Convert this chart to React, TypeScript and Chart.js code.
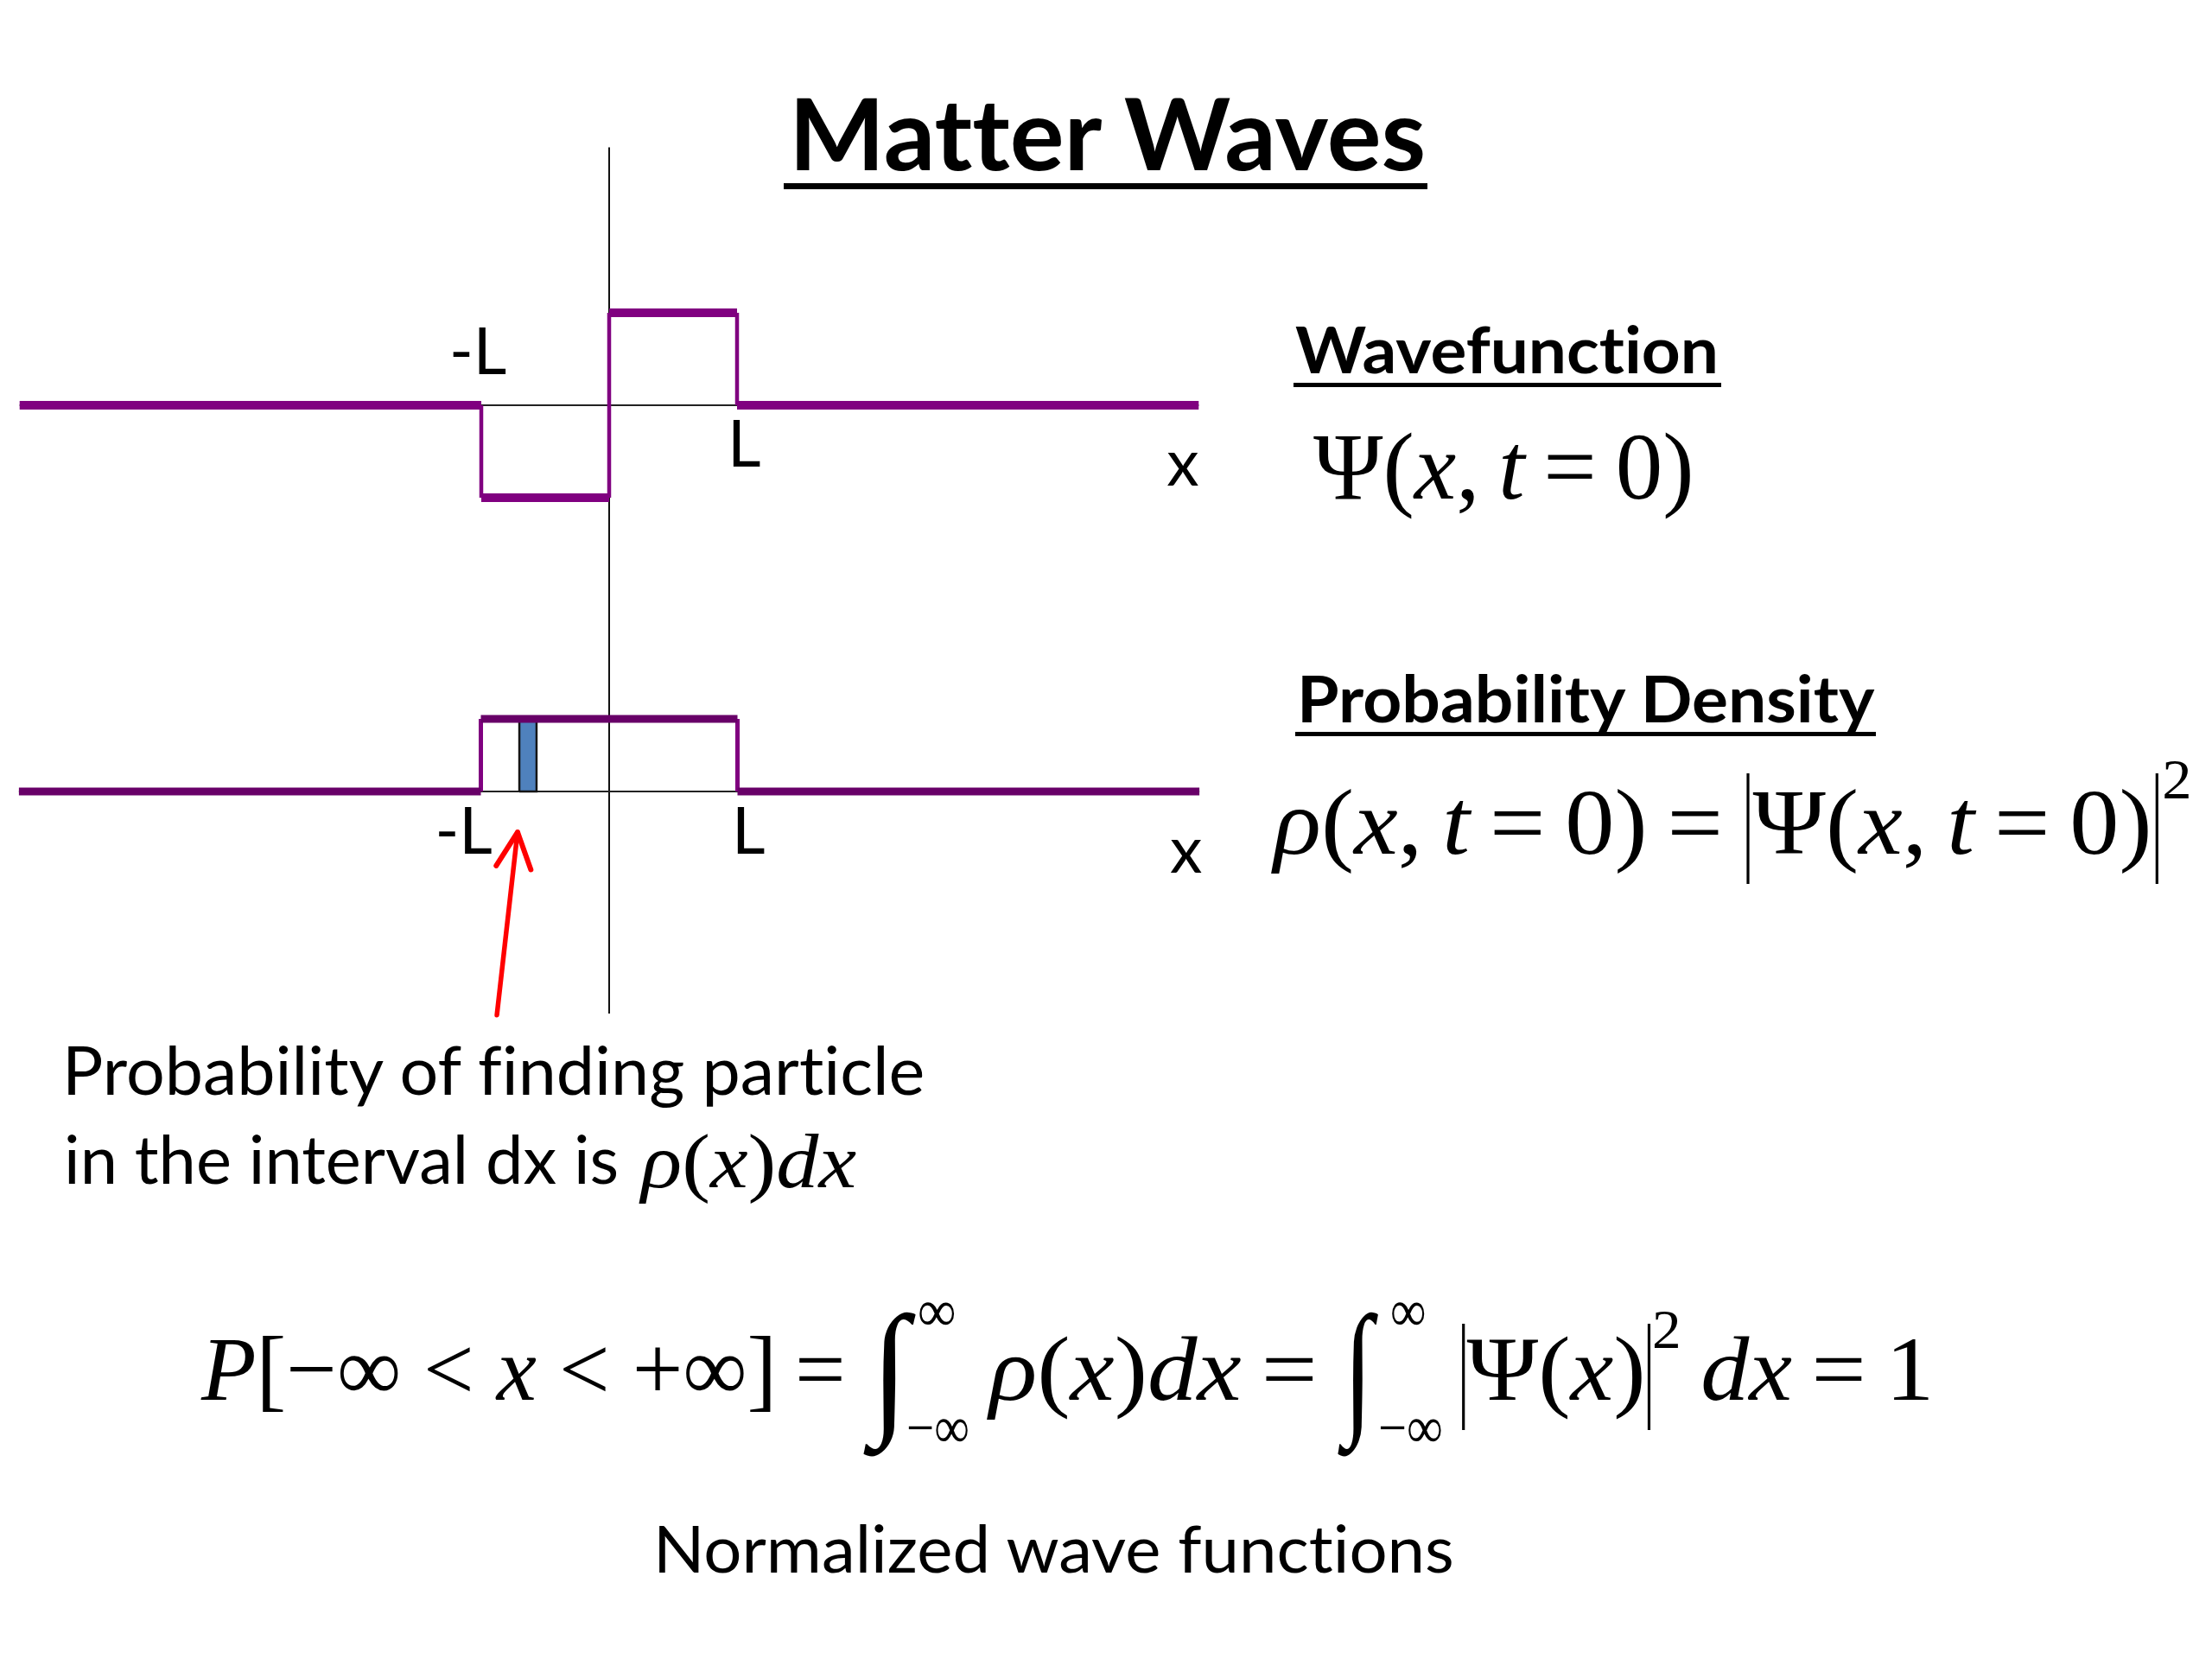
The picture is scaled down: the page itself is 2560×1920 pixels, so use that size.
import React, { useEffect, useLayoutEffect, useRef } from 'react';
import { Chart, registerables } from 'chart.js';
Chart.register(...registerables);

// ---------------- data (x measured in units of L) ----------------
const psiX = [-4.61, -1, -1, 0, 0, 1, 1, 4.61];
const psiY = [0, 0, -1, -1, 1, 1, 0, 0];
const rhoX = [-4.6, -1, -1, 1, 1, 4.6];
const rhoY = [0, 0, 1, 1, 0, 0];
const dxSliceX = [-0.7, -0.566];
const dxSliceHeight = 1;
const arrowX = [-0.875, -0.714];
const arrowY = [-3.08, -0.56];
const tickValues = [-1, 1];
const tickLabels = ['-L', 'L'];
const axisTitle = 'x';
const psiAxisTop = 2.79;
const rhoAxisBottom = -3.06;

// ---------------- styles ----------------
const PURPLE = '#800080';
const PURPLE_DARK = '#680068';
const LABEL_FONT = '75px Lato, "Open Sans", sans-serif';

type Pt = { x: number; y: number };

function stepSegments(xs: number[], ys: number[]) {
  const h: Pt[][] = [];
  const v: Pt[][] = [];
  for (let i = 0; i < xs.length - 1; i++) {
    const seg = [
      { x: xs[i], y: ys[i] },
      { x: xs[i + 1], y: ys[i + 1] },
    ];
    (ys[i] === ys[i + 1] ? h : v).push(seg);
  }
  return { h, v };
}

function lineDs(data: Pt[], color: string, width: number, order: number, extra: any = {}) {
  return {
    data,
    borderColor: color,
    backgroundColor: color,
    borderWidth: width,
    pointRadius: 0,
    borderCapStyle: 'butt',
    borderJoinStyle: 'miter',
    tension: 0,
    fill: false,
    order,
    ...extra,
  };
}

type LabelSpec = { text: string; vx: number; vy: number; dx: number; dy: number };

function labelPlugin(labels: LabelSpec[], arrow?: boolean) {
  return {
    id: 'slideLabels',
    afterDatasetsDraw(chart: any) {
      const ctx = chart.ctx;
      const xs = chart.scales.x;
      const ys = chart.scales.y;
      ctx.save();
      ctx.fillStyle = '#000';
      ctx.font = LABEL_FONT;
      ctx.textAlign = 'left';
      ctx.textBaseline = 'alphabetic';
      for (const l of labels) {
        ctx.fillText(l.text, xs.getPixelForValue(l.vx) + l.dx, ys.getPixelForValue(l.vy) + l.dy);
      }
      if (arrow) {
        const tx = xs.getPixelForValue(arrowX[1]);
        const ty = ys.getPixelForValue(arrowY[1]);
        const sx = xs.getPixelForValue(arrowX[0]);
        const sy = ys.getPixelForValue(arrowY[0]);
        const back = Math.atan2(sy - ty, sx - tx);
        const len = 46;
        const spread = (26 * Math.PI) / 180;
        ctx.strokeStyle = '#ff0000';
        ctx.lineWidth = 6;
        ctx.lineCap = 'round';
        ctx.lineJoin = 'round';
        ctx.beginPath();
        ctx.moveTo(tx + len * Math.cos(back + spread), ty + len * Math.sin(back + spread));
        ctx.lineTo(tx, ty);
        ctx.lineTo(tx + len * Math.cos(back - spread), ty + len * Math.sin(back - spread));
        ctx.stroke();
      }
      ctx.restore();
    },
  };
}

type ChartBox = { left: number; top: number; w: number; h: number; xMin: number; xMax: number; yMin: number; yMax: number };

function baseOptions(b: ChartBox) {
  return {
    animation: false,
    responsive: false,
    maintainAspectRatio: false,
    layout: { padding: 0 },
    events: [],
    plugins: { legend: { display: false }, tooltip: { enabled: false }, title: { display: false } },
    scales: {
      x: { type: 'linear', min: b.xMin, max: b.xMax, display: false },
      y: { type: 'linear', min: b.yMin, max: b.yMax, display: false },
    },
  };
}

// top panel: x=0 at px 705, 148 px per L; y=0 at px 469, 107 px per unit
const TOP: ChartBox = {
  left: 0, top: 150, w: 1410, h: 560,
  xMin: -705 / 148, xMax: 705 / 148,
  yMin: -(710 - 469) / 107, yMax: (469 - 150) / 107,
};
// bottom panel: x=0 at px 705, 148.5 px per L; y=0 at px 916, 84 px per unit
const BOT: ChartBox = {
  left: 0, top: 710, w: 1410, h: 490,
  xMin: -705 / 148.5, xMax: 705 / 148.5,
  yMin: -(1200 - 916) / 84, yMax: (916 - 710) / 84,
};

function psiConfig() {
  const { h, v } = stepSegments(psiX, psiY);
  const datasets: any[] = [
    ...h.map((s) => lineDs(s, PURPLE, 10, 0)),
    ...v.map((s) => lineDs(s, PURPLE, 4.5, 0)),
    lineDs([{ x: psiX[0], y: 0 }, { x: psiX[psiX.length - 1], y: 0 }], '#222', 2, 3),
    lineDs([{ x: 0, y: psiAxisTop }, { x: 0, y: TOP.yMin }], '#111', 2, 3),
  ];
  const labels: LabelSpec[] = [
    { text: tickLabels[0], vx: tickValues[0], vy: 0, dx: -37, dy: -36 },
    { text: tickLabels[1], vx: tickValues[1], vy: 0, dx: -11, dy: 71 },
    { text: axisTitle, vx: psiX[psiX.length - 1], vy: 0, dx: -37, dy: 93 },
  ];
  return {
    type: 'line',
    data: { datasets },
    options: baseOptions(TOP),
    plugins: [labelPlugin(labels)],
  };
}

function rhoConfig() {
  const { h, v } = stepSegments(rhoX, rhoY);
  const sliceTop = [
    { x: dxSliceX[0], y: dxSliceHeight },
    { x: dxSliceX[1], y: dxSliceHeight },
  ];
  const sliceOutline = [
    { x: dxSliceX[0], y: 0 },
    { x: dxSliceX[0], y: dxSliceHeight },
    { x: dxSliceX[1], y: dxSliceHeight },
    { x: dxSliceX[1], y: 0 },
    { x: dxSliceX[0], y: 0 },
  ];
  const datasets: any[] = [
    ...h.map((s) => lineDs(s, PURPLE_DARK, 9, 0)),
    ...v.map((s) => lineDs(s, PURPLE, 5, 0)),
    lineDs([{ x: arrowX[0], y: arrowY[0] }, { x: arrowX[1], y: arrowY[1] }], '#ff0000', 5.5, 0, { borderCapStyle: 'round' }),
    lineDs(sliceOutline, '#151515', 2.5, 1),
    lineDs(sliceTop, 'rgba(0,0,0,0)', 0, 2, { fill: 'origin', backgroundColor: '#4f81bd' }),
    lineDs([{ x: rhoX[0], y: 0 }, { x: rhoX[rhoX.length - 1], y: 0 }], '#222', 2, 3),
    lineDs([{ x: 0, y: BOT.yMax }, { x: 0, y: rhoAxisBottom }], '#111', 2, 3),
  ];
  const labels: LabelSpec[] = [
    { text: tickLabels[0], vx: tickValues[0], vy: 0, dx: -53, dy: 72 },
    { text: tickLabels[1], vx: tickValues[1], vy: 0, dx: -6.5, dy: 72 },
    { text: axisTitle, vx: rhoX[rhoX.length - 1], vy: 0, dx: -34, dy: 94 },
  ];
  return {
    type: 'line',
    data: { datasets },
    options: baseOptions(BOT),
    plugins: [labelPlugin(labels, true)],
  };
}

function PanelChart({ box, make }: { box: ChartBox; make: () => any }) {
  const ref = useRef<HTMLCanvasElement>(null);
  useEffect(() => {
    const chart = new Chart(ref.current as HTMLCanvasElement, make());
    return () => chart.destroy();
  }, []);
  return (
    <canvas
      ref={ref}
      width={box.w}
      height={box.h}
      style={{ position: 'absolute', left: box.left, top: box.top, width: box.w, height: box.h }}
    />
  );
}

// ---------------- text helpers ----------------
const sans: React.CSSProperties = { fontFamily: 'Lato, "Open Sans", sans-serif', fontVariantLigatures: 'none' };
const serif: React.CSSProperties = { fontFamily: '"Liberation Serif", "Times New Roman", serif' };

function Fit({ x, y, w, font, children }: { x: number; y: number; w: number; font: React.CSSProperties; children: React.ReactNode }) {
  const box = useRef<HTMLDivElement>(null);
  const mark = useRef<HTMLSpanElement>(null);
  useLayoutEffect(() => {
    const apply = () => {
      const b = box.current;
      const m = mark.current;
      if (!b || !m) return;
      b.style.transform = 'none';
      const nat = b.offsetWidth || 1;
      const base = m.offsetTop;
      b.style.top = `${y - base}px`;
      b.style.transform = `scaleX(${w / nat})`;
    };
    apply();
    if ((document as any).fonts?.ready) (document as any).fonts.ready.then(apply);
  }, [x, y, w]);
  return (
    <div
      ref={box}
      style={{
        position: 'absolute',
        left: x,
        top: y,
        width: 'max-content',
        whiteSpace: 'nowrap',
        transformOrigin: '0 0',
        lineHeight: 1.3,
        color: '#000',
        ...font,
      }}
    >
      <span ref={mark} style={{ display: 'inline-block', width: 0, height: 0 }} />
      {children}
    </div>
  );
}

function Rule({ x, y, w, h }: { x: number; y: number; w: number; h: number }) {
  return <div style={{ position: 'absolute', left: x, top: y, width: w, height: h, background: '#000' }} />;
}

function Bar({ h, below, gap }: { h: number; below: number; gap: number }) {
  return (
    <span
      style={{
        display: 'inline-block',
        width: 0,
        height: h,
        borderLeft: '3px solid #000',
        verticalAlign: `${-below}px`,
        margin: `0 ${gap}px`,
      }}
    />
  );
}

const I = ({ children }: { children: React.ReactNode }) => <i>{children}</i>;
const TS = '\u2009';

export default function App() {
  return (
    <div style={{ position: 'fixed', left: 0, top: 0, width: 2560, height: 1920, background: '#fff', overflow: 'hidden' }}>
      <PanelChart box={TOP} make={psiConfig} />
      <PanelChart box={BOT} make={rhoConfig} />

      {/* title */}
      <Fit x={913} y={197} w={737} font={{ ...sans, fontWeight: 700, fontSize: 114 }}>Matter Waves</Fit>
      <Rule x={907} y={212} w={745} h={7} />

      {/* wavefunction */}
      <Fit x={1499} y={432} w={490} font={{ ...sans, fontWeight: 700, fontSize: 74 }}>Wavefunction</Fit>
      <Rule x={1497} y={443} w={495} h={5} />
      <Fit x={1520} y={577} w={441} font={{ ...serif, fontSize: 111 }}>
        Ψ(<I>x</I>,{TS}<I>t</I>{TS}={TS}0)
      </Fit>

      {/* probability density */}
      <Fit x={1501} y={836} w={668} font={{ ...sans, fontWeight: 700, fontSize: 74 }}>Probability Density</Fit>
      <Rule x={1499} y={847} w={672} h={5} />
      <Fit x={1474} y={988} w={1062} font={{ ...serif, fontSize: 108 }}>
        <I>ρ</I>(<I>x</I>,{TS}<I>t</I>{TS}={TS}0){TS}={TS}
        <Bar h={128} below={35} gap={4} />
        Ψ(<I>x</I>,{TS}<I>t</I>{TS}={TS}0)
        <Bar h={128} below={35} gap={4} />
        <span style={{ fontSize: '0.6em', verticalAlign: '64px' }}>2</span>
      </Fit>

      {/* left explanatory text */}
      <Fit x={72} y={1267} w={998} font={{ ...sans, fontSize: 77 }}>Probability of finding particle</Fit>
      <Fit x={74} y={1370} w={642} font={{ ...sans, fontSize: 77 }}>in the interval dx is</Fit>
      <Fit x={742} y={1374} w={249} font={{ ...serif, fontSize: 88 }}>
        <I>ρ</I>(<I>x</I>)<I>dx</I>
      </Fit>

      {/* normalization equation */}
      <Fit x={233} y={1620} w={746} font={{ ...serif, fontSize: 106 }}>
        <I>P</I>[−∞ &lt; <I>x</I> &lt; +∞]{TS}=
      </Fit>
      <Fit x={1008} y={1640} w={44} font={{ ...serif, fontSize: 170 }}>∫</Fit>
      <Fit x={1062} y={1540} w={44} font={{ ...serif, fontSize: 68 }}>∞</Fit>
      <Fit x={1049} y={1675} w={73} font={{ ...serif, fontSize: 68 }}>−∞</Fit>
      <Fit x={1145} y={1620} w={380} font={{ ...serif, fontSize: 106 }}>
        <I>ρ</I>(<I>x</I>)<I>dx</I>{TS}=
      </Fit>
      <Fit x={1555} y={1640} w={34} font={{ ...serif, fontSize: 170 }}>∫</Fit>
      <Fit x={1609} y={1540} w={41} font={{ ...serif, fontSize: 68 }}>∞</Fit>
      <Fit x={1595} y={1675} w={75} font={{ ...serif, fontSize: 68 }}>−∞</Fit>
      <Fit x={1690} y={1620} w={548} font={{ ...serif, fontSize: 106 }}>
        <Bar h={123} below={35} gap={2} />
        Ψ(<I>x</I>)
        <Bar h={123} below={35} gap={2} />
        <span style={{ fontSize: '0.6em', verticalAlign: '60px' }}>2</span>
        {TS}<I>dx</I>{TS}={TS}1
      </Fit>

      <Fit x={756} y={1820} w={927} font={{ ...sans, fontSize: 76 }}>Normalized wave functions</Fit>
    </div>
  );
}
